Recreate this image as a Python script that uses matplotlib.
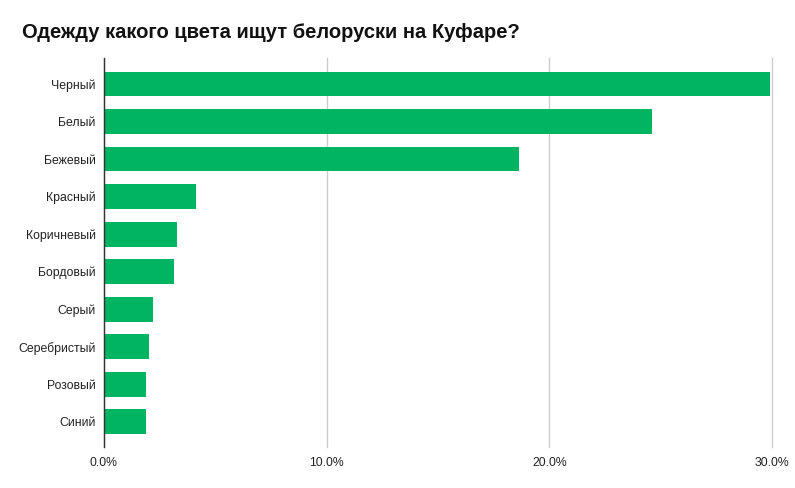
import matplotlib.pyplot as plt
from matplotlib.ticker import FuncFormatter

plt.rcParams['font.family'] = ['Liberation Sans', 'DejaVu Sans']

# Data (share of searches, %)
colors = ['Черный', 'Белый', 'Бежевый', 'Красный', 'Коричневый',
          'Бордовый', 'Серый', 'Серебристый', 'Розовый', 'Синий']
shares = [29.9, 24.6, 18.65, 4.15, 3.26, 3.13, 2.18, 2.04, 1.87, 1.87]
x_ticks = [0, 10, 20, 30]

fig = plt.figure(figsize=(7.95, 4.88), dpi=100)
ax = fig.add_axes([0.1308, 0.084, 0.9711 - 0.1308, 0.8811 - 0.084])

ax.barh(range(len(colors)), shares, height=0.66, color='#00b462', zorder=3)

ax.set_xlim(0, 30)
ax.set_ylim(len(colors) - 1 + 0.67, -0.69)
ax.set_xticks(x_ticks)
ax.xaxis.set_major_formatter(FuncFormatter(lambda v, _: f'{v:.1f}%'))
ax.set_yticks(range(len(colors)))
ax.set_yticklabels(colors)
ax.tick_params(axis='both', length=0, labelsize=8.8, colors='#222222')
ax.tick_params(axis='y', pad=6)
ax.tick_params(axis='x', pad=7)

ax.grid(axis='x', color='#cccccc', linewidth=1, zorder=0)
for line in ax.get_xgridlines():
    line.set_clip_on(False)
for side in ['top', 'right', 'bottom']:
    ax.spines[side].set_visible(False)
ax.spines['left'].set_color('#333333')
ax.spines['left'].set_linewidth(1)
ax.spines['left'].set_zorder(4)

fig.text(22 / 795, 1 - 32 / 488, 'Одежду какого цвета ищут белоруски на Куфаре?',
         fontsize=14.5, fontweight='bold', va='center', ha='left', color='#111111')

fig.savefig('out.png', dpi=100)
